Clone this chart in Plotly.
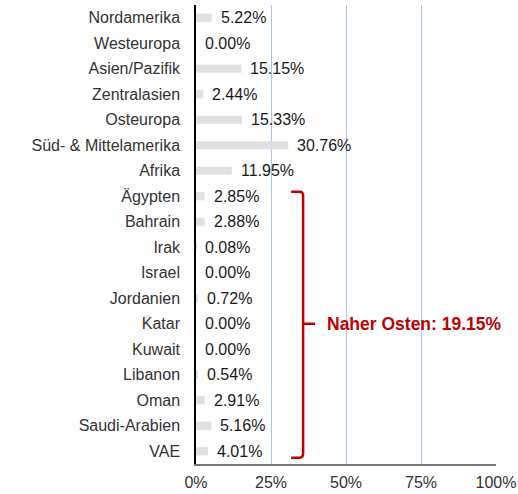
import plotly.graph_objects as go

categories = ["Nordamerika", "Westeuropa", "Asien/Pazifik", "Zentralasien", "Osteuropa",
              "Süd- & Mittelamerika", "Afrika", "Ägypten", "Bahrain", "Irak", "Israel",
              "Jordanien", "Katar", "Kuwait", "Libanon", "Oman", "Saudi-Arabien", "VAE"]
values = [5.22, 0.00, 15.15, 2.44, 15.33, 30.76, 11.95, 2.85, 2.88, 0.08, 0.00,
          0.72, 0.00, 0.00, 0.54, 2.91, 5.16, 4.01]
tick_vals = [0, 25, 50, 75, 100]
tick_text = ["0%", "25%", "50%", "75%", "100%"]
group_label = "Naher Osten: 19.15%"

FONT = "Liberation Sans, Arial, sans-serif"
RED = "#c00000"

fig = go.Figure()
fig.add_trace(go.Bar(
    y=categories, x=values, orientation="h",
    marker=dict(color="#e0e0e0", line=dict(width=0)),
    hoverinfo="skip",
))

for c, v in zip(categories, values):
    fig.add_annotation(x=v, y=c, xref="x", yref="y", text=f"{v:.2f}%",
                       showarrow=False, xanchor="left", xshift=7,
                       font=dict(family=FONT, size=16, color="#1a1a1a"))

# bracket for the Middle East group (y in category index units)
y_top, y_mid, y_bot = 6.82, 12.0, 17.25
x_in, x_v, x_out = 31.7, 35.7, 39.7
path = (f"M {x_in},{y_top} L {x_v-1.2},{y_top} Q {x_v},{y_top} {x_v},{y_top+0.16} "
        f"L {x_v},{y_bot-0.16} Q {x_v},{y_bot} {x_v-1.2},{y_bot} L {x_in},{y_bot} "
        f"M {x_v},{y_mid} L {x_out},{y_mid}")
fig.add_shape(type="path", path=path, xref="x", yref="y",
              line=dict(color=RED, width=2.5))
fig.add_annotation(x=43, y=y_mid, xref="x", yref="y", text=f"<b>{group_label}</b>",
                   showarrow=False, xanchor="left",
                   font=dict(family=FONT, size=17.5, color=RED))

fig.update_layout(
    width=518, height=494,
    margin=dict(l=196, r=22, t=5, b=30, autoexpand=False),
    paper_bgcolor="white", plot_bgcolor="white",
    showlegend=False, bargap=0.68,
    font=dict(family=FONT, size=16, color="#333333"),
)
fig.update_xaxes(range=[0, 100], tickvals=tick_vals, ticktext=tick_text,
                 showgrid=True, gridcolor="#a9c6ea", gridwidth=1, automargin=False,
                 zeroline=False, showline=True, linecolor="#777777", linewidth=1.5,
                 ticks="", ticklabelstandoff=3,
                 tickfont=dict(family=FONT, size=16, color="#333333"))
fig.update_yaxes(autorange="reversed", showgrid=False, zeroline=False, automargin=False,
                 showline=True, linecolor="black", linewidth=1.5, ticks="",
                 ticklabelstandoff=11,
                 tickfont=dict(family=FONT, size=16, color="#333333"))

fig.write_html("out.html", config={"displayModeBar": False},
               post_script="document.body.style.margin='0';")
